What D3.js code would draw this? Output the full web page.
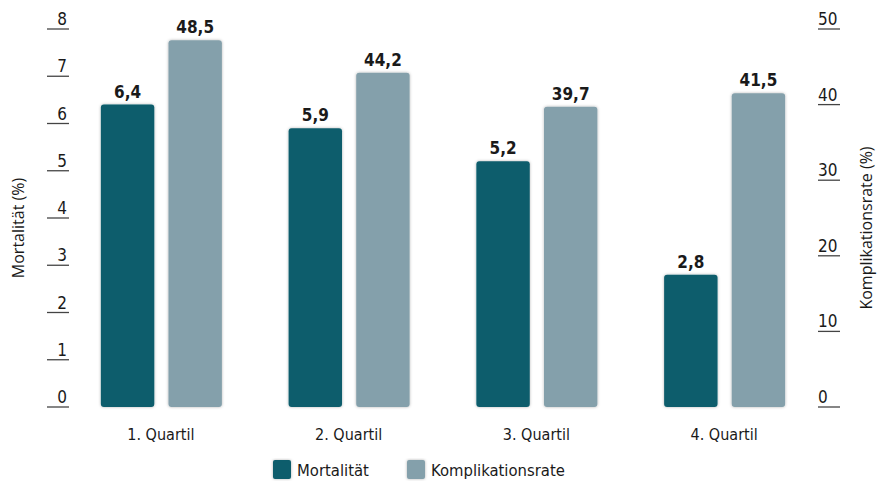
<!DOCTYPE html>
<html>
<head>
    <meta charset="UTF-8">
    <title>Mortalität und Komplikationsrate</title>
    <style>
        body {
            margin: 0;
            background: #fff;
        }

        .cond {
            font-family: "Liberation Sans Narrow", "DejaVu Sans Condensed", "Roboto", sans-serif;
            fill: #1a1a1a;
        }

        .axis-title {
            font-family: "Open Sans", "Noto Sans", sans-serif;
            font-size: 16px;
            fill: #1a1a1a;
        }

        .tick-line {
            stroke: #444;
            stroke-width: 1.3;
        }
    </style>
    <script src="https://d3js.org/d3.v7.min.js"></script>
</head>
<body>
    <script>
        // data
        var categories = ["1. Quartil", "2. Quartil", "3. Quartil", "4. Quartil"]
        var mortalitaet = [6.4, 5.9, 5.2, 2.8]
        var komplikation = [48.5, 44.2, 39.7, 41.5]
        var leftTicks = [0, 1, 2, 3, 4, 5, 6, 7, 8]
        var rightTicks = [0, 10, 20, 30, 40, 50]
        var seriesNames = ["Mortalität", "Komplikationsrate"]
        var colors = ["#0b5d6c", "#84a0ab"]

        var W = 881, H = 484
        var y0 = 407, y1 = 29

        var svg = d3.select("body").append("svg")
            .attr("width", W)
            .attr("height", H)

        var defs = svg.append("defs")
        var f = defs.append("filter").attr("id", "shadow")
            .attr("x", "-20%").attr("y", "-10%").attr("width", "140%").attr("height", "120%")
        f.append("feDropShadow")
            .attr("dx", 0).attr("dy", 0).attr("stdDeviation", 1.8)
            .attr("flood-color", "#000").attr("flood-opacity", 0.3)

        var x = d3.scaleBand()
            .domain(categories)
            .range([67, 818])
            .paddingInner(0)

        var xs = d3.scaleBand()
            .domain(seriesNames)
            .range([0, 121])
            .paddingInner(0.21)

        var yL = d3.scaleLinear().domain([0, 8]).range([y0, y1])
        var yR = d3.scaleLinear().domain([0, 50]).range([y0, y1])

        // left axis
        var gl = svg.append("g")
        gl.selectAll("line").data(leftTicks).join("line")
            .attr("class", "tick-line")
            .attr("x1", 47).attr("x2", 69)
            .attr("y1", function (d) { return yL(d) }).attr("y2", function (d) { return yL(d) })
        gl.selectAll("text").data(leftTicks).join("text")
            .attr("class", "cond")
            .attr("x", 67).attr("y", function (d) { return yL(d) - 4 })
            .attr("text-anchor", "end")
            .style("font-size", "17px")
            .text(function (d) { return d })

        // right axis
        var gr = svg.append("g")
        gr.selectAll("line").data(rightTicks).join("line")
            .attr("class", "tick-line")
            .attr("x1", 818).attr("x2", 840)
            .attr("y1", function (d) { return yR(d) }).attr("y2", function (d) { return yR(d) })
        gr.selectAll("text").data(rightTicks).join("text")
            .attr("class", "cond")
            .attr("x", 818).attr("y", function (d) { return yR(d) - 4 })
            .attr("text-anchor", "start")
            .style("font-size", "17px")
            .text(function (d) { return d })

        svg.append("text")
            .attr("class", "axis-title")
            .attr("transform", "translate(24,228) rotate(-90)")
            .attr("text-anchor", "middle")
            .text("Mortalität (%)")

        svg.append("text")
            .attr("class", "axis-title")
            .attr("transform", "translate(872,228) rotate(-90)")
            .attr("text-anchor", "middle")
            .text("Komplikationsrate (%)")

        // bars
        var groups = svg.selectAll("g.grp").data(categories).join("g")
            .attr("class", "grp")
            .attr("transform", function (d) { return "translate(" + (x(d) + x.bandwidth() / 2 - 60) + ",0)" })

        groups.each(function (c, i) {
            var g = d3.select(this)
            var vals = [
                { s: seriesNames[0], v: mortalitaet[i], y: yL(mortalitaet[i]) },
                { s: seriesNames[1], v: komplikation[i], y: yR(komplikation[i]) }
            ]
            g.selectAll("rect").data(vals).join("rect")
                .attr("x", function (d) { return xs(d.s) })
                .attr("y", function (d) { return d.y })
                .attr("width", xs.bandwidth())
                .attr("height", function (d) { return y0 - d.y })
                .attr("rx", 3)
                .attr("fill", function (d, j) { return colors[j] })
                .attr("filter", "url(#shadow)")
            g.selectAll("text").data(vals).join("text")
                .attr("class", "cond")
                .attr("x", function (d) { return xs(d.s) + xs.bandwidth() / 2 })
                .attr("y", function (d) { return d.y - 7 })
                .attr("text-anchor", "middle")
                .style("font-size", "17px")
                .style("font-weight", "bold")
                .text(function (d) { return String(d.v).replace(".", ",") })
        })

        // category labels
        svg.selectAll("text.cat").data(categories).join("text")
            .attr("class", "cond cat")
            .attr("x", function (d) { return x(d) + x.bandwidth() / 2 })
            .attr("y", 440)
            .attr("text-anchor", "middle")
            .style("font-size", "16px")
            .text(function (d) { return d })

        // legend
        var legX = [273, 407]
        var lg = svg.selectAll("g.leg").data(seriesNames).join("g")
            .attr("class", "leg")
            .attr("transform", function (d, i) { return "translate(" + legX[i] + ",460)" })
        lg.append("rect")
            .attr("width", 18).attr("height", 19).attr("rx", 2)
            .attr("fill", function (d, i) { return colors[i] })
            .attr("filter", "url(#shadow)")
        lg.append("text")
            .attr("class", "cond")
            .attr("x", 24).attr("y", 16)
            .style("font-size", "16.5px")
            .text(function (d) { return d })
    </script>
</body>
</html>
